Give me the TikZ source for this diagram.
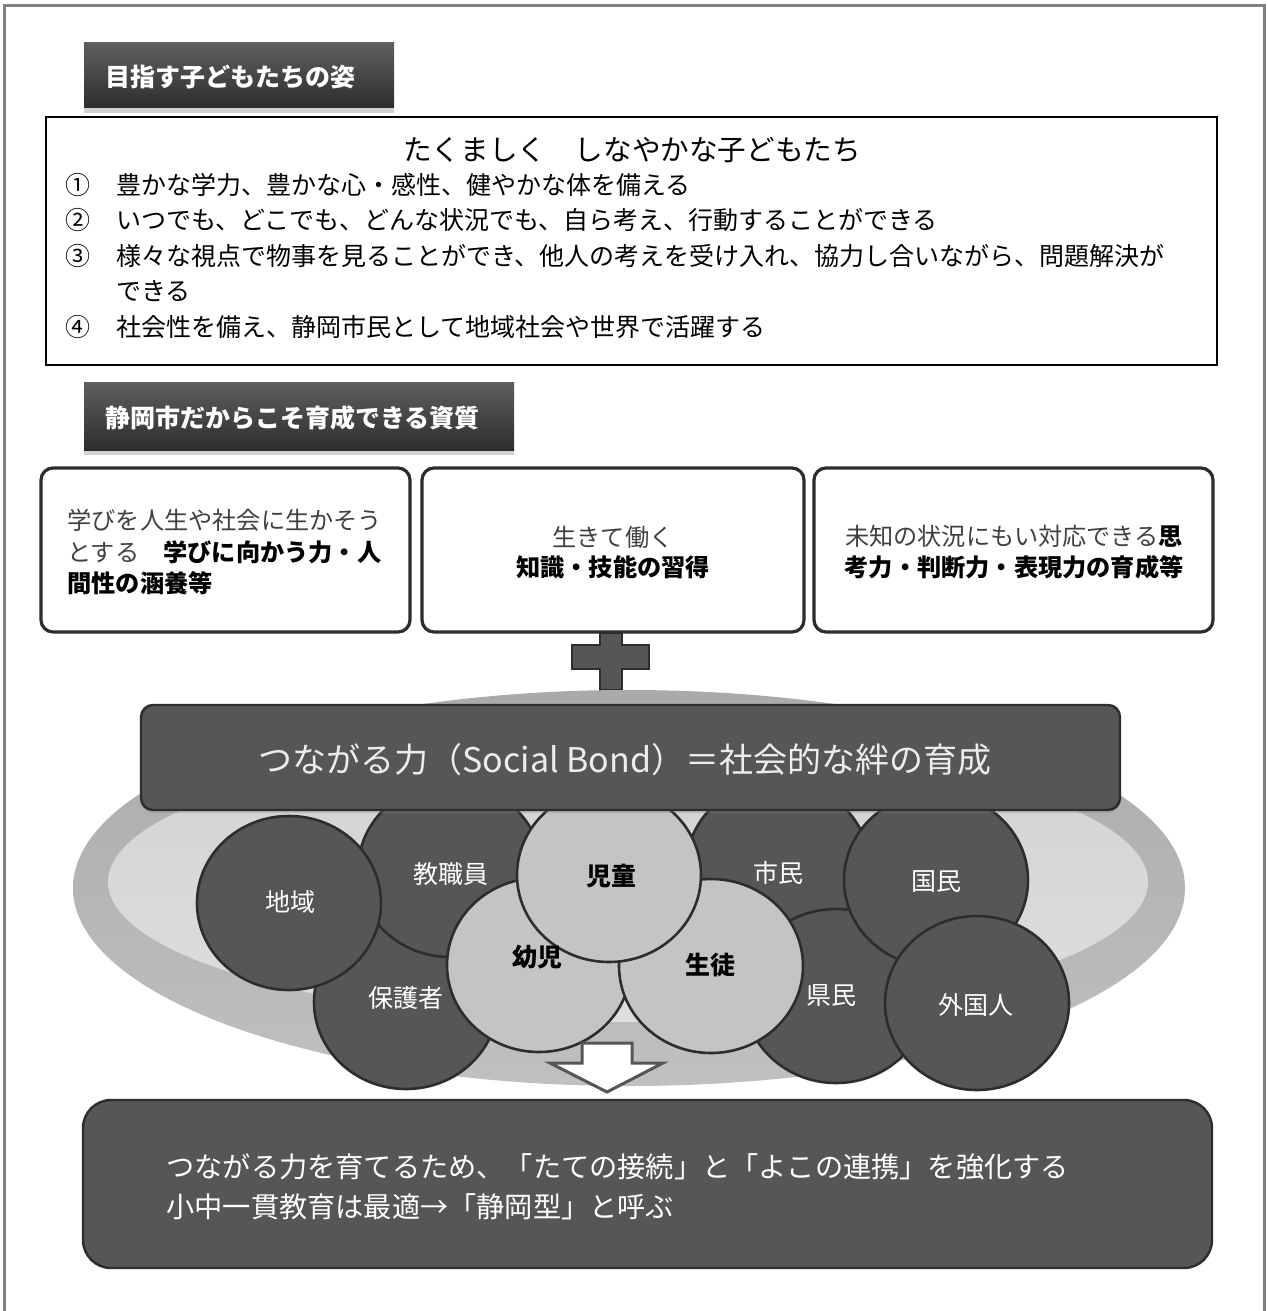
\documentclass[tikz,border=0pt]{standalone}
\usepackage{fontspec}
\newfontfamily\jp{Noto Sans CJK JP}
\usetikzlibrary{shadows,shapes.geometric}
\definecolor{framegray}{RGB}{128,128,128}
\definecolor{hdtop}{RGB}{95,95,95}
\definecolor{hdbot}{RGB}{45,45,45}
\definecolor{darkfill}{RGB}{86,86,86}
\definecolor{darkline}{RGB}{45,45,45}
\definecolor{lightfill}{RGB}{196,196,196}
\definecolor{ringtop}{RGB}{170,170,170}
\definecolor{ringbot}{RGB}{192,192,192}
\definecolor{innertop}{RGB}{210,210,210}
\definecolor{innerbot}{RGB}{222,222,222}
\definecolor{softtext}{RGB}{64,64,64}
\definecolor{bondtext}{RGB}{236,236,236}
\begin{document}
\begin{tikzpicture}[x=0.5pt,y=-0.5pt,font=\jp,
  hdrbox/.style={rectangle, top color=hdtop, bottom color=hdbot, draw=none, inner sep=0pt,
    drop shadow={shadow xshift=0pt, shadow yshift=-2.5pt, opacity=0.35}},
  hdrtext/.style={anchor=west, inner sep=0pt, text=white, font=\jp\bfseries\fontsize{12.5}{15}\selectfont},
  mainbox/.style={rectangle, draw=black, line width=1pt, fill=white, inner sep=0pt},
  itemtext/.style={anchor=west, inner sep=0pt, font=\jp\fontsize{12.5}{15}\selectfont},
  qualbox/.style={rectangle, rounded corners=6pt, draw=darkline, line width=1.6pt, fill=white, inner sep=0pt,
    minimum height=82pt},
  qualtext/.style={inner sep=0pt, font=\jp\fontsize{12.1}{15}\selectfont},
  darkbox/.style={rectangle, draw=darkline, line width=1.2pt, fill=darkfill, inner sep=0pt},
  dkc/.style={ellipse, draw=darkline, line width=1.3pt, fill=darkfill, inner sep=0pt,
    minimum width=92pt, minimum height=87pt},
  ltc/.style={ellipse, draw=darkline, line width=1.3pt, fill=lightfill, inner sep=0pt,
    minimum width=92pt, minimum height=87pt},
  dklbl/.style={inner sep=0pt, text=white, font=\jp\fontsize{12.5}{15}\selectfont},
  ltlbl/.style={inner sep=0pt, text=black, font=\jp\bfseries\fontsize{12.5}{15}\selectfont}
]
\useasboundingbox (0,0) rectangle (1268,1311);
\fill[white] (0,0) rectangle (1268,1311);
\draw[framegray, line width=1.5pt] (4,1311) -- (4,6) -- (1264,6) -- (1264,1311);

% ---- section 1 ----
\node[hdrbox, minimum width=155pt, minimum height=32.5pt] (h1) at (239,75.5) {};
\node[hdrtext] (h1t) at (105,77) {目指す子どもたちの姿};

\node[mainbox, minimum width=585.5pt, minimum height=124pt] (goal) at (631.5,241) {};
\node[inner sep=0pt, font=\jp\fontsize{14.3}{17}\selectfont] (goalt) at (632,150) {たくましく　しなやかな子どもたち};
\node[itemtext] (n1) at (65,185) {①};
\node[itemtext] (i1) at (116,185) {豊かな学力、豊かな心・感性、健やかな体を備える};
\node[itemtext] (n2) at (65,220) {②};
\node[itemtext] (i2) at (116,220) {いつでも、どこでも、どんな状況でも、自ら考え、行動することができる};
\node[itemtext] (n3) at (65,256) {③};
\node[itemtext] (i3) at (116,256) {様々な視点で物事を見ることができ、他人の考えを受け入れ、協力し合いながら、問題解決が};
\node[itemtext] (i3b) at (116,291) {できる};
\node[itemtext] (n4) at (65,327) {④};
\node[itemtext] (i4) at (116,327) {社会性を備え、静岡市民として地域社会や世界で活躍する};

% ---- section 2 ----
\node[hdrbox, minimum width=215pt, minimum height=34pt] (h2) at (299,416) {};
\node[hdrtext] (h2t) at (105,418) {静岡市だからこそ育成できる資質};

\node[qualbox, minimum width=184.5pt] (qa) at (225.5,550) {};
\node[qualbox, minimum width=191pt] (qb) at (613,550) {};
\node[qualbox, minimum width=199.5pt] (qc) at (1013.5,550) {};

\node[qualtext, anchor=west, text=softtext] (qa1) at (67,520) {学びを人生や社会に生かそう};
\node[qualtext, anchor=west] (qa2) at (67,552) {{\color{softtext}とする}　\bfseries 学びに向かう力・人};
\node[qualtext, anchor=west, font=\jp\bfseries\fontsize{12.1}{15}\selectfont] (qa3) at (67,583) {間性の涵養等};

\node[qualtext, text=softtext] (qb1) at (613,537) {生きて働く};
\node[qualtext, font=\jp\bfseries\fontsize{12.1}{15}\selectfont] (qb2) at (613,567) {知識・技能の習得};

\node[qualtext] (qc1) at (1014,536) {{\color{softtext}未知の状況にもい対応できる}\textbf{思}};
\node[qualtext, font=\jp\bfseries\fontsize{12.1}{15}\selectfont] (qc2) at (1014,567) {考力・判断力・表現力の育成等};

% plus sign
\filldraw[fill=darkfill, draw=darkline, line width=0.8pt]
  (600,633) -- (622,633) -- (622,645) -- (649,645) -- (649,669) -- (622,669) -- (622,690)
  -- (600,690) -- (600,669) -- (572,669) -- (572,645) -- (600,645) -- cycle;

% ---- base disk ----
\shade[top color=ringtop, bottom color=ringbot] (629,888) ellipse [x radius=556, y radius=198];
\shade[top color=innertop, bottom color=innerbot] (628,882) ellipse [x radius=520, y radius=140];

% circles (back to front)
\node[dkc] (c7) at (406,1002) {};
\node[dkc] (c2) at (450,870) {};
\node[dkc] (c1) at (289,903) {};
\node[dkc] (c5) at (778,868) {};
\node[dkc] (c9) at (836,996) {};
\node[dkc] (c6) at (936,880) {};
\node[dkc] (c10) at (977,1003) {};
\node[ltc] (c8) at (539,965) {};
\node[ltc] (c4) at (711,966) {};
\node[ltc] (c3) at (609,875) {};

\node[dklbl] (l1) at (290,902) {地域};
\node[dklbl] (l2) at (451,874) {教職員};
\node[dklbl] (l7) at (406,998) {保護者};
\node[dklbl] (l5) at (778,873) {市民};
\node[dklbl] (l6) at (936,882) {国民};
\node[dklbl] (l9) at (831,995) {県民};
\node[dklbl] (l10) at (976,1005) {外国人};
\node[ltlbl] (l8) at (537,957) {幼児};
\node[ltlbl] (l4) at (710,965) {生徒};
\node[ltlbl] (l3) at (611,876) {児童};

% social bond box
\node[darkbox, rounded corners=6pt, minimum width=489.5pt, minimum height=52.5pt,
  drop shadow={shadow xshift=0pt, shadow yshift=-1.5pt, opacity=0.3}] (bond) at (630.5,757.5) {};
\node[inner sep=0pt, text=bondtext, font=\jp\fontsize{17}{20}\selectfont] (bondt) at (625,760)
  {つながる力（Social Bond）＝社会的な絆の育成};

% down arrow
\filldraw[fill=white, draw=darkfill, line width=1.5pt, line join=miter]
  (582,1043) -- (632,1043) -- (632,1063) -- (663,1063) -- (607,1092) -- (550,1063) -- (582,1063) -- cycle;

% bottom box
\node[darkbox, rounded corners=14pt, minimum width=564.5pt, minimum height=84pt] (concl) at (647.5,1184) {};
\node[anchor=west, inner sep=0pt, text=white, font=\jp\fontsize{14.1}{16}\selectfont] (cl1) at (166,1167)
  {つながる力を育てるため、「たての接続」と「よこの連携」を強化する};
\node[anchor=west, inner sep=0pt, text=white, font=\jp\fontsize{14.1}{16}\selectfont] (cl2) at (166,1207)
  {小中一貫教育は最適→「静岡型」と呼ぶ};
\end{tikzpicture}
\end{document}
